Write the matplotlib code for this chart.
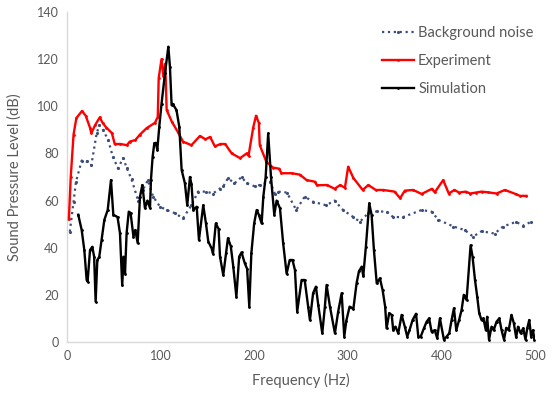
import matplotlib
matplotlib.use("Agg")
import matplotlib.pyplot as plt

# Font config (Excel-like look)
plt.rcParams['font.family'] = ['Lato', 'DejaVu Sans']

GRAY_TXT = '#595959'
AXIS_GRAY = '#D9D9D9'

# Background noise
bg_freq = [3, 7, 9.6, 15.7, 21, 26, 31.7, 34.5, 38.5, 44,
           49, 54.5, 60, 64, 69, 76, 81, 86.5, 92, 99.4,
           106.5, 115, 124, 133, 140, 149, 156, 163, 167, 172,
           179, 186.6, 192, 201, 206, 217, 222, 225.7, 235, 245,
           254, 263, 277, 286, 295, 306, 313, 322, 331, 341.5,
           348.6, 359, 379, 389.6, 397, 413, 425, 434, 443, 457,
           466, 480, 487, 496]
bg_spl = [46.8, 59.5, 68, 77, 76.6, 75, 88.5, 92, 90, 85.7,
          78.6, 73.7, 78, 73.7, 69, 60, 64.5, 68.7, 61.7, 57.4,
          56, 54.7, 52.5, 58, 63.8, 63.8, 63, 65, 66, 69.5,
          67.3, 70, 67.3, 66, 66.6, 68, 63, 63.8, 63.4, 56,
          61.7, 59.5, 58, 60, 56, 53, 51, 54.7, 55.4, 55.3,
          53, 53, 56, 55.3, 51.8, 49, 47.5, 44.7, 47, 46,
          49, 51, 49.3, 51]

# Experiment
exp_freq = [2, 4, 7, 10, 16, 20, 24.5, 26, 30, 35,
            38, 42, 48, 51, 57, 64, 67, 73, 78, 85,
            94, 97, 98, 101, 103, 105, 106.5, 112, 118.6, 124,
            133, 142, 148, 153, 158, 164, 169, 176, 185, 192,
            194, 199, 202, 205, 206, 213, 220, 227, 229, 240,
            249, 256, 265, 267, 278, 286, 292, 297, 300.5, 306,
            316, 322, 330, 338, 350, 356, 361, 370, 379, 390,
            393, 402, 408, 414, 419, 426, 431, 437, 443, 450,
            459, 468, 480, 484, 491]
exp_spl = [52, 70, 88, 95, 98, 96, 91, 88.6, 92, 95.3,
           93, 91, 88.6, 84, 84, 83.5, 85, 85.7, 88, 90.7,
           93, 95.5, 112, 120, 113, 118, 98.4, 93.5, 89, 85,
           83.5, 87.4, 86, 87, 83, 84, 84, 80, 78, 80,
           79, 91, 96, 93, 83.5, 76.5, 74, 73.5, 71.6, 71.6,
           71, 68.7, 68, 66.5, 66.6, 65, 66.6, 65.4, 74.4, 69.6,
           64.5, 66.6, 64.5, 64.5, 63.8, 61, 64.2, 64.5, 62.8, 65,
           63.5, 68.7, 63, 64.5, 63.4, 63.8, 63, 63.4, 63.8, 63.5,
           63, 64.5, 62.7, 62, 62]

# Simulation
sim_freq = [12, 15.7, 18.5, 21, 22, 24.6, 27, 29, 30.6, 32.4,
            34.5, 37, 39.9, 43.5, 47, 49.5, 54, 56.6, 59, 60.5,
            62, 63.7, 66, 68, 71, 73, 75.5, 78, 80.5, 83.3,
            86, 88.7, 89.7, 91.5, 93.3, 95, 96.5, 98.6, 101, 104.7,
            108.3, 110, 111.8, 113, 117, 120, 122.5, 126, 128.5, 131.4,
            133, 135, 138.6, 141, 145.6, 148.5, 151, 154.6, 156, 159,
            162, 163.5, 167, 170, 172, 175, 177.7, 181, 184, 186.5,
            190, 192.5, 194.8, 197, 200, 202.7, 205, 208, 209.8, 212.3,
            215, 218, 221.5, 224, 227.6, 231, 234.7, 238, 241, 243.6,
            246, 250.7, 254, 257.8, 259.6, 263, 266, 268.5, 272.8, 275.6,
            277.4, 281, 286.3, 289.8, 293.5, 296.3, 298.5, 302, 306, 309.5,
            312, 315, 316.6, 319.4, 323, 325.5, 328, 331, 334.4, 337.3,
            340, 341.5, 344.3, 347, 348.6, 351, 354, 357.6, 361, 363.6,
            366, 369.3, 373, 375.4, 378, 381.4, 384.3, 387, 389.6, 393,
            395.6, 398.5, 402.8, 405.7, 408.5, 411, 413.5, 416, 419, 421.7,
            424, 427, 431.3, 433.4, 436, 438.4, 440.5, 443, 445, 447.6,
            449, 451, 453.7, 456, 459, 462, 464.4, 467, 469.4, 472,
            475, 477.5, 480, 482, 484.8, 487.5, 490, 491.8, 494, 496,
            498, 499.5]
sim_spl = [54, 47.5, 39, 26.3, 25.6, 39, 40.4, 36.2, 17.1, 34.8,
           36.2, 43.3, 51.8, 56, 68.7, 54, 53, 46.2, 24, 36.2,
           29, 46.2, 55.3, 54.6, 44.7, 47.5, 42, 61.7, 66.6, 56.8,
           60, 56.8, 68.7, 78.6, 84.3, 84.5, 81.5, 91.3, 101, 114,
           125.3, 116.8, 100.5, 101, 98.4, 91.3, 73, 67.3, 58, 70,
           67, 56, 57.4, 43.3, 58, 50.3, 42.6, 39.7, 37.5, 50.3,
           48, 36.2, 28.4, 37.6, 44, 40.7, 32, 19.2, 36.2, 38,
           33.4, 31, 15, 37.6, 50.3, 56, 54, 50.3, 61.7, 70,
           88.5, 70, 54, 60, 56.7, 41.9, 29, 34.8, 34.8, 30.5,
           12.9, 26.3, 26.3, 15, 9.3, 20.7, 23.5, 15.7, 3.7, 15,
           24.2, 15, 3.7, 12.9, 20.7, 2.3, 9, 15, 14, 25,
           30, 32, 28, 40.4, 58.8, 54, 39, 24.9, 27, 22,
           15, 5.8, 12.2, 11.5, 5, 6.5, 3.7, 11.5, 6.5, 2.3,
           5, 9.3, 12, 2.3, 2.3, 5.8, 8.6, 10, 4.4, 5,
           1.6, 10, 1, 2.3, 3.7, 9.3, 14.3, 5, 9.3, 13.6,
           20, 17.8, 41, 36.2, 26.3, 19.2, 12.2, 9.3, 10, 5,
           10.7, 1, 6.5, 5, 8.6, 10, 5, 1, 6, 5,
           11.5, 8, 2, 6.5, 3.7, 5.8, 1, 5.8, 9.3, 2.3,
           5, 1]

fig = plt.figure(figsize=(5.56, 3.94), dpi=100)
ax = fig.add_axes([0.1205, 0.132, 0.8415, 0.8375])

ax.plot(bg_freq, bg_spl, color='#3C4F7A', linestyle=':', linewidth=1.6,
        marker='.', markersize=2.5, label='Background noise', zorder=2)
ax.plot(exp_freq, exp_spl, color='#FF0000', linewidth=1.7,
        marker='.', markersize=2, label='Experiment', zorder=3)
ax.plot(sim_freq, sim_spl, color='black', linewidth=1.7,
        marker='.', markersize=2, label='Simulation', zorder=4)

ax.set_xlim(0, 500)
ax.set_ylim(0, 140)
ax.set_xticks(range(0, 501, 100))
ax.set_yticks(range(0, 141, 20))

for side in ['top', 'right']:
    ax.spines[side].set_visible(False)
for side in ['left', 'bottom']:
    ax.spines[side].set_color(AXIS_GRAY)
    ax.spines[side].set_linewidth(1.0)

ax.tick_params(length=0, labelsize=9, colors=GRAY_TXT, pad=6)
ax.set_xlabel('Frequency (Hz)', fontsize=10.5, color=GRAY_TXT, labelpad=8)
ax.set_ylabel('Sound Pressure Level (dB)', fontsize=10.5, color=GRAY_TXT, labelpad=11)

leg = ax.legend(loc='upper left', bbox_to_anchor=(0.66, 0.975), frameon=False,
                fontsize=10.5, handlelength=2.2, handletextpad=0.3,
                labelspacing=0.95, borderaxespad=0)
for t in leg.get_texts():
    t.set_color(GRAY_TXT)

fig.savefig('out.png', dpi=100)
